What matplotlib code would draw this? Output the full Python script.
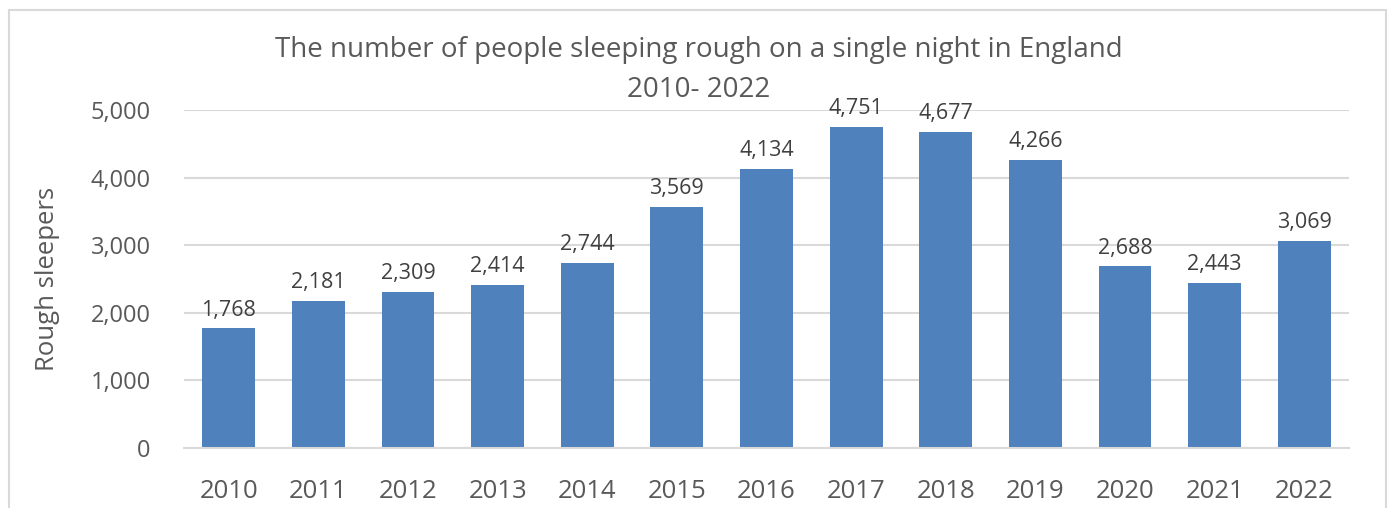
import matplotlib.pyplot as plt
from matplotlib.patches import Rectangle
from matplotlib.ticker import FuncFormatter

years = ["2010", "2011", "2012", "2013", "2014", "2015", "2016",
         "2017", "2018", "2019", "2020", "2021", "2022"]
sleepers = [1768, 2181, 2309, 2414, 2744, 3569, 4134,
            4751, 4677, 4266, 2688, 2443, 3069]

plt.rcParams['font.family'] = ['Open Sans', 'DejaVu Sans']
text_col = '#595959'

fig = plt.figure(figsize=(13.92, 5.08), dpi=100)
ax = fig.add_axes([184 / 1392, 1 - 448 / 508, (1349 - 184) / 1392, (448 - 110) / 508])

# outer chart border
fig.patches.append(Rectangle((9 / 1392, -0.05), (1386 - 9) / 1392, 1.05 - 10 / 508,
                             transform=fig.transFigure, fill=False,
                             edgecolor='#d9d9d9', linewidth=1.5))

x = range(len(years))
bars = ax.bar(x, sleepers, width=0.59, color='#4f81bd', zorder=2)
for b, v in zip(bars, sleepers):
    ax.text(b.get_x() + b.get_width() / 2, v + 110, f"{v:,}",
            ha='center', va='bottom', fontsize=15.5, color='#404040')

ax.set_xlim(-0.5, len(years) - 0.5)
ax.set_ylim(0, 5000)
ax.set_yticks(range(0, 5001, 1000))
ax.yaxis.set_major_formatter(FuncFormatter(lambda v, p: f"{int(v):,}"))
ax.set_xticks(list(x))
ax.set_xticklabels(years)
ax.grid(axis='y', color='#d9d9d9', linewidth=1.5, zorder=0)
for s in ['top', 'right', 'left']:
    ax.spines[s].set_visible(False)
ax.spines['bottom'].set_color('#d9d9d9')
ax.spines['bottom'].set_linewidth(1.5)
ax.tick_params(axis='x', length=0, labelsize=18.5, colors=text_col, pad=22)
ax.tick_params(axis='y', length=0, labelsize=17, colors=text_col, pad=24)
ax.set_ylabel("Rough sleepers", fontsize=18.5, color=text_col, labelpad=22)

fig.text(0.502, 1 - 50 / 508, "The number of people sleeping rough on a single night in England",
         ha='center', va='center', fontsize=20, color=text_col)
fig.text(0.502, 1 - 90 / 508, "2010- 2022",
         ha='center', va='center', fontsize=20, color=text_col)

fig.savefig("out.png", dpi=100)
